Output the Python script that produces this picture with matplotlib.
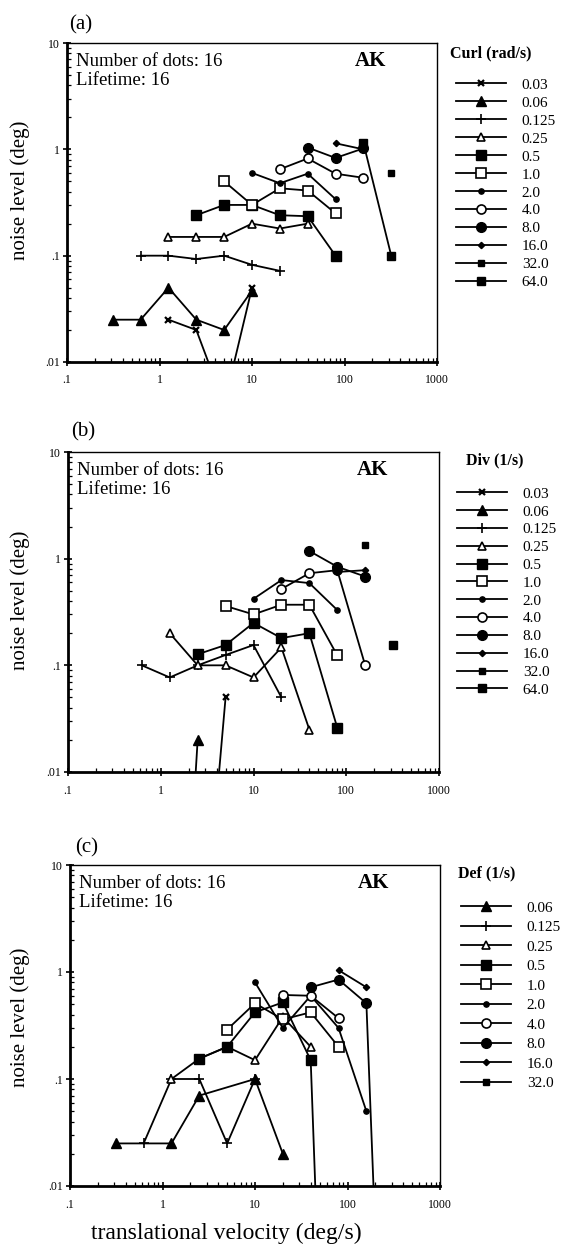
import matplotlib
matplotlib.use('Agg')
import matplotlib.pyplot as plt

# translational velocities (deg/s) used in the experiment
VEL = [0.3125, 0.625, 1.25, 2.5, 5, 10, 20, 40, 80, 160, 320]

# (a) curl
CURL_LABELS = ['0.03', '0.06', '0.125', '0.25', '0.5', '1.0',
               '2.0', '4.0', '8.0', '16.0', '32.0', '64.0']
CURL_X = [[1.25, 2.5, 5, 10],
          [0.3125, 0.625, 1.25, 2.5, 5, 10],
          [0.625, 1.25, 2.5, 5, 10, 20],
          [1.25, 2.5, 5, 10, 20, 40],
          [2.5, 5, 10, 20, 40, 80],
          [5, 10, 20, 40, 80],
          [10, 20, 40, 80],
          [20, 40, 80, 160],
          [40, 80, 160],
          [80, 160],
          [320],
          [160, 320]]
CURL_Y = [[0.025, 0.02, 0.004, 0.05],
          [0.025, 0.025, 0.05, 0.025, 0.02, 0.047],
          [0.1, 0.1, 0.093, 0.1, 0.082, 0.072],
          [0.15, 0.15, 0.15, 0.2, 0.18, 0.2],
          [0.24, 0.3, 0.3, 0.24, 0.235, 0.1],
          [0.5, 0.3, 0.43, 0.41, 0.25],
          [0.6, 0.48, 0.59, 0.34],
          [0.65, 0.82, 0.59, 0.54],
          [1.04, 0.83, 1.02],
          [1.14, 1.0],
          [0.6],
          [1.15, 0.1]]

# (b) divergence
DIV_LABELS = CURL_LABELS
DIV_X = [[2.5, 5],
         [1.25, 2.5],
         [0.625, 1.25, 2.5, 5, 10, 20],
         [1.25, 2.5, 5, 10, 20, 40],
         [2.5, 5, 10, 20, 40, 80],
         [5, 10, 20, 40, 80],
         [10, 20, 40, 80],
         [20, 40, 80, 160],
         [40, 80, 160],
         [80, 160],
         [160],
         [320]]
DIV_Y = [[0.00005, 0.05],
         [0.000001, 0.02],
         [0.1, 0.077, 0.1, 0.125, 0.155, 0.05],
         [0.2, 0.1, 0.1, 0.077, 0.147, 0.025],
         [0.127, 0.155, 0.25, 0.18, 0.2, 0.026],
         [0.36, 0.3, 0.37, 0.37, 0.124],
         [0.42, 0.63, 0.59, 0.33],
         [0.52, 0.73, 0.78, 0.1],
         [1.18, 0.84, 0.68],
         [0.75, 0.78],
         [1.33],
         [0.155]]

# (c) deformation
DEF_LABELS = ['0.06', '0.125', '0.25', '0.5', '1.0',
              '2.0', '4.0', '8.0', '16.0', '32.0']
DEF_X = [[0.3125, 1.25, 2.5, 10, 20],
         [0.625, 1.25, 2.5, 5, 10],
         [1.25, 2.5, 5, 10, 20, 40],
         [2.5, 5, 10, 20, 40, 80],
         [5, 10, 20, 40, 80],
         [10, 20, 40, 80, 160],
         [20, 40, 80],
         [40, 80, 160, 320],
         [80, 160],
         []]
DEF_Y = [[0.025, 0.025, 0.07, 0.1, 0.02],
         [0.025, 0.1, 0.1, 0.025, 0.1],
         [0.1, 0.155, 0.2, 0.15, 0.38, 0.2],
         [0.155, 0.2, 0.42, 0.52, 0.15, 1e-8],
         [0.29, 0.51, 0.36, 0.42, 0.2],
         [0.8, 0.3, 0.6, 0.3, 0.05],
         [0.61, 0.6, 0.37],
         [0.72, 0.85, 0.51, 1e-7],
         [1.04, 0.72],
         []]

# marker style for every level (same symbol in all three panels)
STYLE = {
    '0.03': dict(marker='x', ms=4, mew=1.6, mfc='k'),
    '0.06': dict(marker='^', ms=6.5, mfc='k'),
    '0.125': dict(marker='+', ms=7, mew=1.2, mfc='k'),
    '0.25': dict(marker='^', ms=6, mfc='white', mew=1.2),
    '0.5': dict(marker='s', ms=6.5, mfc='k'),
    '1.0': dict(marker='s', ms=6.5, mfc='white', mew=1.2),
    '2.0': dict(marker='o', ms=3.8, mfc='k'),
    '4.0': dict(marker='o', ms=6.5, mfc='white', mew=1.2),
    '8.0': dict(marker='o', ms=7, mfc='k'),
    '16.0': dict(marker='D', ms=3.2, mfc='k'),
    '32.0': dict(marker='s', ms=4.2, mfc='k'),
    '64.0': dict(marker='s', ms=5.2, mfc='k'),
}

W, H = 564, 1246

plt.rcParams['font.family'] = ['Liberation Serif', 'DejaVu Serif']


def px_rect(left, top, right, bottom):
    # pixel box -> figure fraction rectangle
    return [left / W, 1 - bottom / H, (right - left) / W, (bottom - top) / H]


def draw_panel(fig, rect, labels, xs, ys, tag, tag_pos, title, leg):
    ax = fig.add_axes(rect)
    handles = []
    for lab, x, y in zip(labels, xs, ys):
        h, = ax.plot(x, y, color='k', lw=1.3, mec='k', **STYLE[lab])
        handles.append(h)
    ax.set_xscale('log')
    ax.set_yscale('log')
    ax.set_xlim(0.1, 1000)
    ax.set_ylim(0.01, 10)
    ax.set_xticks([0.1, 1, 10, 100, 1000])
    ax.set_xticklabels(['.1', '1', '10', '100', '1000'])
    ax.set_yticks([0.01, 0.1, 1, 10])
    ax.set_yticklabels(['.01', '.1', '1', '10'])
    ax.tick_params(which='major', direction='inout', length=6, width=1.2,
                   labelsize=8.5, top=False, right=False)
    ax.tick_params(axis='x', which='major', pad=6)
    ax.tick_params(axis='y', which='major', pad=2)
    ax.tick_params(which='minor', direction='in', length=3, width=0.9,
                   top=False, right=False)
    ax.spines['left'].set_linewidth(2.0)
    ax.spines['bottom'].set_linewidth(2.0)
    ax.spines['top'].set_linewidth(1.0)
    ax.spines['right'].set_linewidth(1.0)

    ax.text(0.024, 0.968, 'Number of dots: 16\nLifetime: 16', transform=ax.transAxes,
            ha='left', va='top', fontsize=13.5, linespacing=1.15)
    ax.text(0.82, 0.945, 'AK', transform=ax.transAxes, ha='center', va='center',
            fontsize=15, fontweight='bold')

    fig.text(tag_pos[0] / W, 1 - tag_pos[1] / H, tag, ha='left', va='center',
             fontsize=15)
    fig.text(leg[0] / W, 1 - leg[1] / H, title, ha='left', va='center',
             fontsize=11.5, fontweight='bold')
    ax.legend(handles, labels, loc='upper left',
              bbox_to_anchor=(leg[2] / W, 1 - leg[3] / H),
              bbox_transform=fig.transFigure, frameon=False, fontsize=11,
              handlelength=3.3, handletextpad=1.0, labelspacing=leg[4],
              borderpad=0, borderaxespad=0, numpoints=1)
    return ax


def main():
    fig = plt.figure(figsize=(W / 100, H / 100), dpi=100)

    draw_panel(fig, px_rect(67, 43, 437, 362), CURL_LABELS, CURL_X, CURL_Y,
               '(a)', (69, 25), 'Curl (rad/s)', (450, 53, 456, 78, 0.28))
    draw_panel(fig, px_rect(68, 452, 439, 772), DIV_LABELS, DIV_X, DIV_Y,
               '(b)', (71, 432), 'Div (1/s)', (466, 460, 457, 487, 0.27))
    draw_panel(fig, px_rect(70, 865, 440, 1186), DEF_LABELS, DEF_X, DEF_Y,
               '(c)', (75, 848), 'Def (1/s)', (458, 873, 461, 901, 0.38))

    for yc in (190, 600, 1017):
        fig.text(20 / W, 1 - yc / H, 'noise level (deg)', rotation=90,
                 ha='center', va='center', fontsize=15)
    fig.text(226 / W, 1 - 1233 / H, 'translational velocity (deg/s)',
             ha='center', va='center', fontsize=17)

    fig.savefig('out.png', dpi=100)


if __name__ == '__main__':
    main()
